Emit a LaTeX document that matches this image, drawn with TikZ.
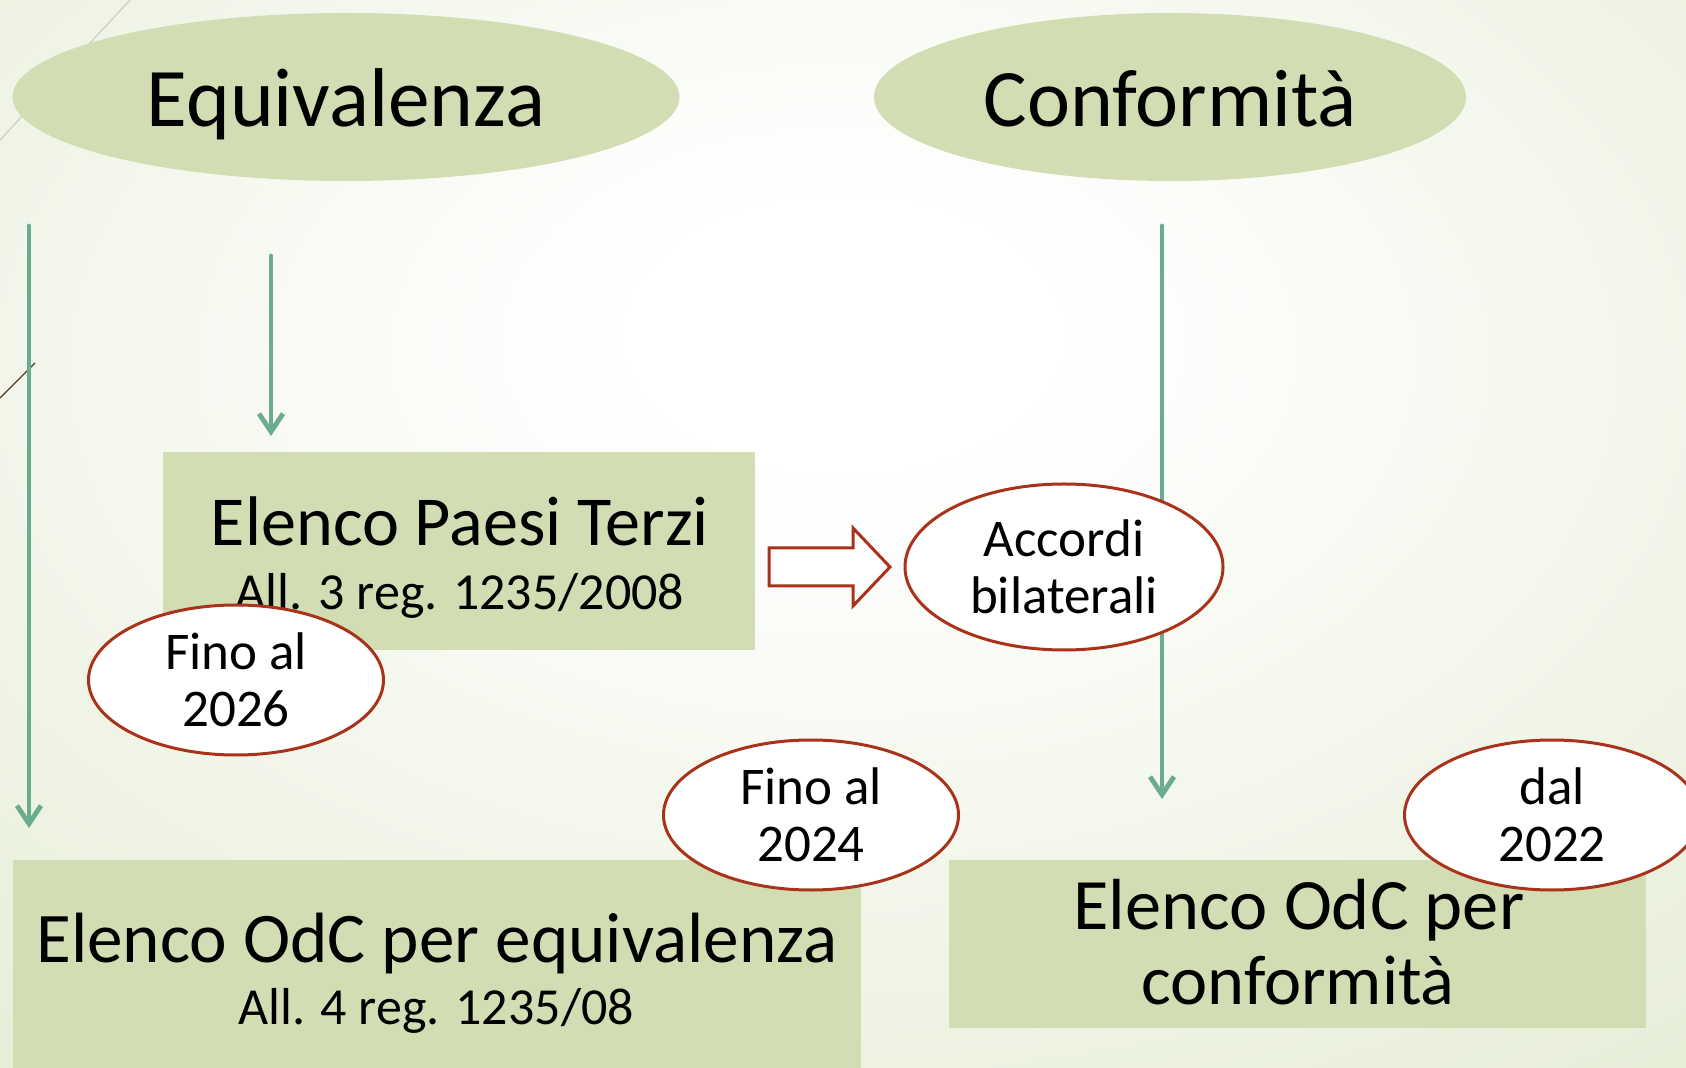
\documentclass[tikz,border=0pt]{standalone}
\usepackage{fontspec}
\setmainfont{Carlito}
\usetikzlibrary{arrows.meta,shapes.geometric}
\definecolor{boxg}{HTML}{D2DDB3}
\definecolor{bgg}{HTML}{E3EBD1}
\definecolor{arrg}{HTML}{69AD8C}
\definecolor{redo}{HTML}{A8331A}
\pgfdeclareradialshading{bgshade}{\pgfpoint{0bp}{10bp}}{color(0bp)=(white); color(8bp)=(white!97!bgg); color(45bp)=(bgg); color(100bp)=(bgg)}
\begin{document}
\begin{tikzpicture}[x=0.5pt,y=-0.5pt,
  titleell/.style={ellipse, fill=boxg, inner sep=0pt},
  greenbox/.style={rectangle, fill=boxg, inner sep=0pt},
  noteell/.style={ellipse, draw=redo, line width=1.5pt, fill=white, inner sep=0pt, align=center,
    minimum width=147.5pt, minimum height=75pt, font=\fontsize{26.5}{28.5}\selectfont},
  bigtxt/.style={anchor=base, inner sep=0pt, font=\fontsize{35.6}{38}\selectfont},
  smalltxt/.style={anchor=base, inner sep=0pt, font=\fontsize{26}{28}\selectfont},
  garrow/.style={draw=arrg, line width=2.4pt, line cap=round, -{Straight Barb[length=9pt,width=12pt]}}
]
\useasboundingbox (0,0) rectangle (1686,1068);
\shade[shading=bgshade] (0,0) rectangle (1686,1068);
% template decoration lines
\draw[color=black!22, line width=0.5pt] (0,140) -- (130,0);
\draw[color=black!55!brown, line width=0.6pt] (0,398) -- (35,363);

% title ellipses
\node[titleell, minimum width=333.5pt, minimum height=84pt] (equiv) at (346,97) {};
\node[anchor=base, inner sep=0pt, font=\fontsize{41.7}{44}\selectfont] (equivt) at (346,127) {Equivalenza};
\node[titleell, minimum width=296pt, minimum height=84pt] (conf) at (1170,97) {};
\node[anchor=base, inner sep=0pt, font=\fontsize{40.8}{44}\selectfont] (conft) at (1170,127) {Conformità};

% boxes
\node[greenbox, minimum width=296pt, minimum height=99pt] (paesi) at (459,551) {};
\node[bigtxt, font=\fontsize{35.1}{38}\selectfont] (paesit) at (460,546) {Elenco Paesi Terzi};
\node[smalltxt] (paesis) at (460,610) {All. 3 reg. 1235/2008};

\node[greenbox, minimum width=424pt, minimum height=110pt] (odceq) at (437,970) {};
\node[bigtxt] (odceqt) at (437,962) {Elenco OdC per equivalenza};
\node[smalltxt] (odceqs) at (436,1024) {All. 4 reg. 1235/08};

\node[greenbox, minimum width=348.5pt, minimum height=84pt] (odcco) at (1297.5,944) {};
\node[bigtxt, font=\fontsize{36.2}{38}\selectfont] (odccot) at (1299,929) {Elenco OdC per};
\node[bigtxt, font=\fontsize{35.2}{38}\selectfont] (odccos) at (1298,1004) {conformità};

% green arrows
\coordinate (a1s) at (29,226);
\coordinate (a1e) at (29,828);
\coordinate (a2s) at (271,256);
\coordinate (a2e) at (271,436);
\coordinate (a3s) at (1162,226);
\coordinate (a3e) at (1162,799);
\draw[garrow] (a1s) -- (a1e);
\draw[garrow] (a2s) -- (a2e);
\draw[garrow] (a3s) -- (a3e);

% hollow block arrow
\draw[draw=redo, fill=white, line width=1.5pt, line join=miter]
  (769,548) -- (853,548) -- (853,528) -- (890,567) -- (853,606) -- (853,586) -- (769,586) -- cycle;

% note ellipses
\node[noteell, minimum width=159pt, minimum height=83pt] (accordi) at (1064,567) {Accordi\\bilaterali};
\node[noteell] (fino26) at (236,680) {Fino al\\2026};
\node[noteell] (fino24) at (811,815) {Fino al\\2024};
\node[noteell] (dal22) at (1552,815) {dal\\2022};
\end{tikzpicture}
\end{document}
